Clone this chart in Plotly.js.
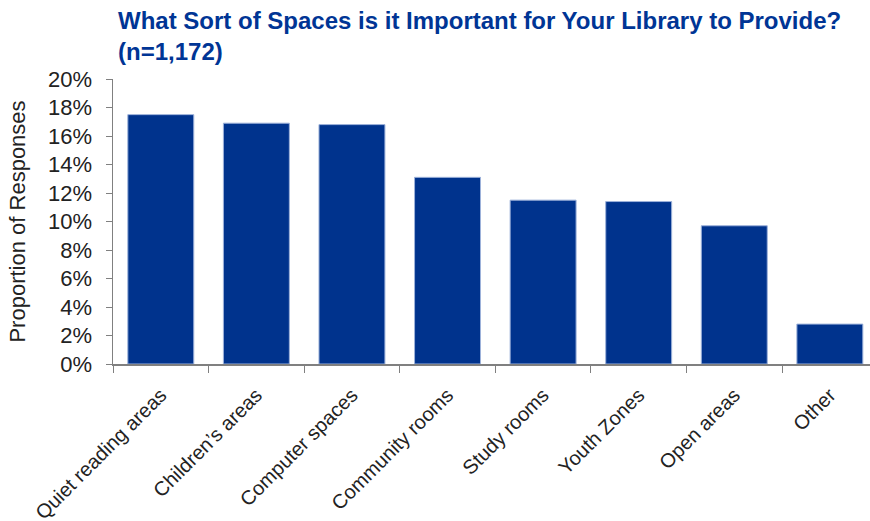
<!DOCTYPE html>
<html>
<head>
<meta charset="utf-8">
<script src="https://cdn.plot.ly/plotly-3.0.1.min.js"></script>
<style>html,body{margin:0;padding:0;background:#fff;}#chart{width:870px;height:521px;}</style>
</head>
<body>
<div id="chart"></div>
<script>
var categories = ["Quiet reading areas", "Children\u2019s areas", "Computer spaces", "Community rooms", "Study rooms", "Youth Zones", "Open areas", "Other"];
var shares = [17.5, 16.9, 16.8, 13.1, 11.5, 11.4, 9.7, 2.8];
var yTickVals = [0, 2, 4, 6, 8, 10, 12, 14, 16, 18, 20];
var yTickText = ["0%", "2%", "4%", "6%", "8%", "10%", "12%", "14%", "16%", "18%", "20%"];

var trace = {
  type: "bar",
  x: categories,
  y: shares,
  width: 0.69,
  marker: {color: "#00338D", line: {color: "#9DB2DA", width: 1}},
  hoverinfo: "x+y"
};

var layout = {
  width: 870, height: 521,
  margin: {l: 113, r: 0, t: 79, b: 157},
  paper_bgcolor: "#fff", plot_bgcolor: "#fff",
  showlegend: false,
  font: {family: "Liberation Sans, Arial, sans-serif", color: "#222"},
  title: {
    text: "What Sort of Spaces is it Important for Your Library to Provide?<br>(n=1,172)",
    font: {family: "Liberation Sans, Arial, sans-serif", size: 24, color: "#003595", weight: "bold"},
    x: 118/870, xanchor: "left", xref: "container",
    y: 1 - 29/521, yanchor: "bottom", yref: "container"
  },
  xaxis: {
    type: "category",
    range: [-0.5, 7.42],
    tickangle: -45,
    tickson: "boundaries",
    ticks: "outside", ticklen: 7, tickcolor: "#808080", tickwidth: 1,
    showline: true, linecolor: "#808080", linewidth: 1.5,
    showgrid: false, zeroline: false,
    tickfont: {size: 20, color: "#222"},
    ticklabelstandoff: 10,
    automargin: false
  },
  yaxis: {
    range: [0, 20],
    tickvals: yTickVals, ticktext: yTickText,
    ticks: "outside", ticklen: 6, tickcolor: "#808080", tickwidth: 1,
    showline: true, linecolor: "#808080", linewidth: 1.5,
    showgrid: false, zeroline: false,
    tickfont: {size: 22, color: "#222"},
    ticklabelstandoff: 9,
    title: {text: "Proportion of Responses", font: {size: 22, color: "#222"}, standoff: 16},
    automargin: false
  }
};

Plotly.newPlot("chart", [trace], layout, {displayModeBar: false, staticPlot: true});
</script>
</body>
</html>
